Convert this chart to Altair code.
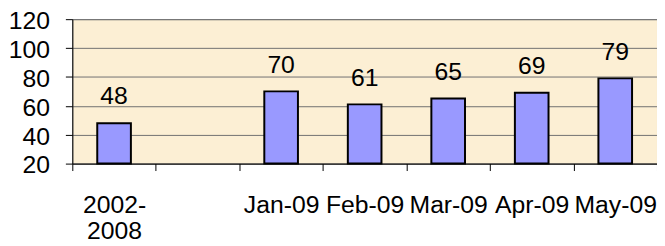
import altair as alt
import pandas as pd

categories = ["2002-2008", " ", "Jan-09", "Feb-09", "Mar-09", "Apr-09", "May-09"]
values = [48, None, 70, 61, 65, 69, 79]
y_ticks = [20, 40, 60, 80, 100, 120]

df = pd.DataFrame({"cat": categories, "val": values})
df_bars = df.dropna()

FONT = "Liberation Sans"
FS = 25

x_enc = alt.X(
    "cat:N",
    sort=categories,
    scale=alt.Scale(domain=categories, paddingInner=0, paddingOuter=0),
    axis=alt.Axis(
        title=None,
        labelAngle=0,
        tickBand="extent",
        tickSize=7,
        tickColor="black",
        domainColor="black",
        labelPadding=22,
        labelFontSize=FS,
        labelFont=FONT,
        labelColor="black",
        labelLineHeight=27,
        labelOverlap=False,
        labelExpr="datum.value == '2002-2008' ? ['2002-', '2008'] : datum.value",
        grid=False,
    ),
)

y_enc = alt.Y(
    "val:Q",
    scale=alt.Scale(domain=[20, 120], zero=False, nice=False),
    axis=alt.Axis(
        title=None,
        values=y_ticks,
        tickSize=7,
        tickColor="black",
        domainColor="black",
        labelPadding=16,
        labelFontSize=FS,
        labelFont=FONT,
        labelColor="black",
        labelOverlap=False,
        labelOffset=1.5,
        gridColor="#707070",
        gridWidth=1,
    ),
)

bars = alt.Chart(df_bars).mark_bar(
    size=34, color="#9999FF", stroke="black", strokeWidth=2
).encode(x=x_enc, y=y_enc, y2=alt.datum(20))

labels = alt.Chart(df_bars).mark_text(
    baseline="bottom", dy=-14, fontSize=FS, font=FONT, color="black"
).encode(x=x_enc, y=y_enc, text=alt.Text("val:Q"))

chart = (
    alt.layer(bars, labels)
    .properties(
        width=591,
        height=146,
        autosize=alt.AutoSizeParams(type="none"),
        padding={"left": 65, "top": 10, "right": 0, "bottom": 82},
        background="white",
    )
    .configure_view(fill="#FCEFD4", stroke="#8a8a8a", strokeWidth=1)
)

chart.save("out.html", embed_options={"renderer": "svg", "actions": False})
